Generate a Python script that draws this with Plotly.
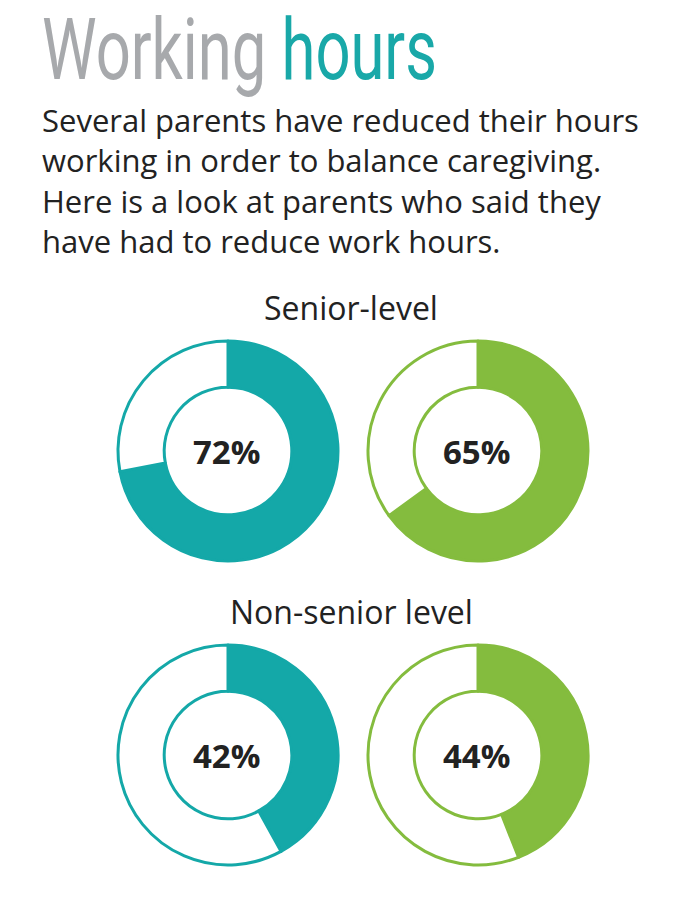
import plotly.graph_objects as go

# share of parents who reduced work hours
values = [72, 65, 42, 44]
colors = ['#14A8A8', '#84BC3E', '#14A8A8', '#84BC3E']

title_grey = 'Working'
title_teal = 'hours'
subtitle_lines = [
    'Several parents have reduced their hours',
    'working in order to balance caregiving.',
    'Here is a look at parents who said they',
    'have had to reduce work hours.',
]
row_labels = ['Senior-level', 'Non-senior level']

W, H = 700, 900
OFF = 8  # page body margin that shifts the whole figure


def px_x(v):
    return (v - OFF) / W


def px_y(v):
    return 1 - (v - OFF) / H


# donut centres in px and radius
col_cx = [228, 478]
row_cy = [451, 755]
R = 110

fig = go.Figure()

# title first, so it is annotation index 0 (condensed by the post script)
fig.add_annotation(
    x=px_x(40), y=px_y(49), xref='paper', yref='paper',
    xanchor='left', yanchor='middle', showarrow=False,
    text=f"<span style='color:#A7A9AC'>{title_grey}</span> "
         f"<span style='color:#19A8A8'>{title_teal}</span>",
    font=dict(family='Roboto', size=86),
)
fig.add_annotation(
    x=px_x(40), y=px_y(180), xref='paper', yref='paper',
    xanchor='left', yanchor='middle', showarrow=False, align='left',
    text='<br>'.join(subtitle_lines),
    font=dict(family='Open Sans', size=31, color='#222222'),
)
for lbl, yy in zip(row_labels, [307, 611]):
    fig.add_annotation(
        x=px_x(351), y=px_y(yy), xref='paper', yref='paper',
        xanchor='center', yanchor='middle', showarrow=False,
        text=lbl, font=dict(family='Open Sans', size=32, weight=500, color='#222222'),
    )

for i, (val, col) in enumerate(zip(values, colors)):
    row, c = divmod(i, 2)
    cx, cy = col_cx[c], row_cy[row]
    fig.add_trace(go.Pie(
        values=[val, 100 - val],
        labels=['Reduced', 'Other'],
        hole=0.58,
        sort=False,
        direction='clockwise',
        rotation=0,
        textinfo='none',
        hoverinfo='skip',
        showlegend=False,
        marker=dict(colors=[col, 'white'], line=dict(color=col, width=3)),
        domain=dict(x=[px_x(cx - R), px_x(cx + R)],
                    y=[px_y(cy + R), px_y(cy - R)]),
    ))
    fig.add_annotation(
        x=px_x(cx - 2), y=px_y(cy), xref='paper', yref='paper',
        xanchor='center', yanchor='middle', showarrow=False,
        text=f'<b>{val}%</b>',
        font=dict(family='Open Sans', size=33, color='#222222'),
    )

fig.update_layout(
    width=W, height=H,
    margin=dict(l=0, r=0, t=0, b=0),
    paper_bgcolor='white',
    plot_bgcolor='white',
)

# squeeze the title horizontally to mimic the condensed headline face
post = """
var gd = document.getElementById('{plot_id}');
function squeeze() {
  var t = gd.querySelector('.annotation[data-index="0"] text');
  if (!t) return;
  t.style.transform = '';
  var w = t.getBBox().width;
  t.style.transformBox = 'fill-box';
  t.style.transformOrigin = 'left center';
  t.style.transform = 'scaleX(' + (395 / w) + ')';
}
squeeze();
gd.on('plotly_afterplot', squeeze);
"""

fig.write_html('out.html', post_script=post)
